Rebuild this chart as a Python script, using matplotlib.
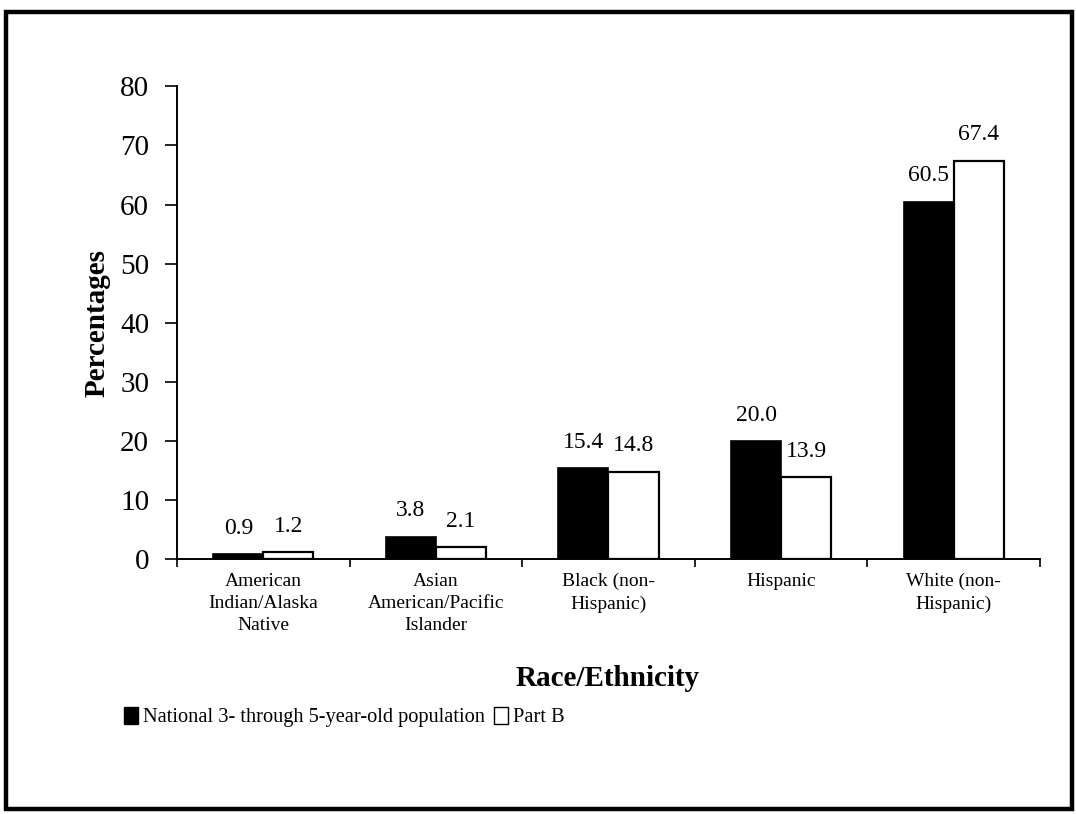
import matplotlib.pyplot as plt
import numpy as np
from matplotlib.patches import Rectangle, Patch

# Daten
categories = ["American\nIndian/Alaska\nNative",
              "Asian\nAmerican/Pacific\nIslander",
              "Black (non-\nHispanic)",
              "Hispanic",
              "White (non-\nHispanic)"]
national = [0.9, 3.8, 15.4, 20.0, 60.5]
part_b = [1.2, 2.1, 14.8, 13.9, 67.4]
yticks = [0, 10, 20, 30, 40, 50, 60, 70, 80]

plt.rcParams['font.family'] = ['Liberation Serif', 'DejaVu Serif']

fig = plt.figure(figsize=(10.76, 8.14), dpi=100)
ax = fig.add_axes([0.1645, 0.313, 0.802, 0.581])

x = np.arange(len(categories))
w = 0.29
b1 = ax.bar(x - w / 2, national, w, color="black", edgecolor="black", linewidth=1.2)
b2 = ax.bar(x + w / 2, part_b, w, color="white", edgecolor="black", linewidth=1.6)

ax.bar_label(b1, labels=[f"{v:.1f}" for v in national], padding=11, fontsize=17)
ax.bar_label(b2, labels=[f"{v:.1f}" for v in part_b], padding=11, fontsize=17)

ax.set_xlim(-0.5, len(categories) - 0.5)
ax.set_ylim(0, 80)
ax.set_yticks(yticks)
ax.tick_params(axis="y", labelsize=21, length=9, width=1.2, direction="out", pad=11)

# Kategoriegrenzen als Ticks, Beschriftung in der Mitte
ax.set_xticks(np.arange(-0.5, len(categories), 1.0))
ax.set_xticklabels([])
ax.set_xticks(x, minor=True)
ax.set_xticklabels(categories, minor=True, fontsize=14, linespacing=1.38)
ax.tick_params(axis="x", which="major", length=6, width=1.2, direction="out")
ax.tick_params(axis="x", which="minor", length=0, pad=10)

for s in ["top", "right"]:
    ax.spines[s].set_visible(False)
for s in ["left", "bottom"]:
    ax.spines[s].set_linewidth(1.4)

ax.set_ylabel("Percentages", fontsize=21, fontweight="bold", labelpad=7)
fig.text(0.565, 1 - 678 / 814, "Race/Ethnicity", fontsize=21, fontweight="bold",
         ha="center", va="center")

handles = [Patch(facecolor="black", edgecolor="black"),
           Patch(facecolor="white", edgecolor="black")]
fig.legend(handles, ["National 3- through 5-year-old population", "Part B"],
           loc="center left", bbox_to_anchor=(124 / 1076, 1 - 717 / 814),
           ncol=2, frameon=False, fontsize=14.7, handlelength=0.7, handleheight=0.9,
           handletextpad=0.25, columnspacing=0.4, borderpad=0, borderaxespad=0)

# Rahmen
fig.patches.append(Rectangle((6 / 1076, 5 / 814), 1066 / 1076, 797 / 814,
                             transform=fig.transFigure, fill=False,
                             edgecolor="black", linewidth=3.2))

fig.savefig("out.png", dpi=100)
